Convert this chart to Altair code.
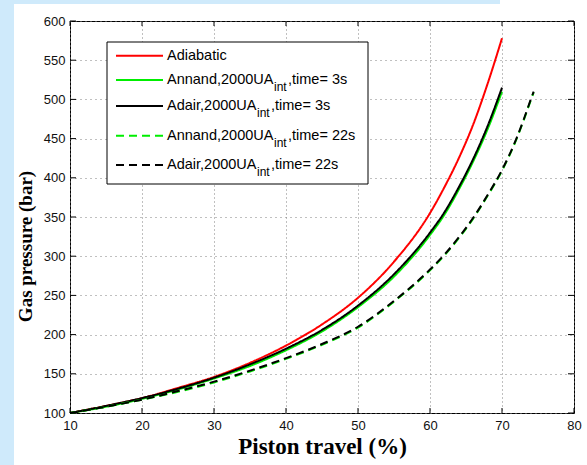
import altair as alt
import pandas as pd

# ---------------- data ----------------
x_main = [10, 15, 20, 25, 30, 35, 40, 45, 50, 55, 60, 62, 64, 66, 68, 70]
adiabatic = [100, 109, 119, 132, 146, 164, 186, 213, 247, 293, 355, 388, 425, 468, 520, 578]
annand_3s = [100, 108, 118, 130, 144, 160, 180, 204, 235, 274, 327, 353, 385, 421, 462, 510]
adair_3s = [100, 109, 119, 131, 145, 162, 182, 206, 237, 277, 330, 356, 388, 424, 466, 515]

x_22s = [10, 15, 20, 25, 30, 35, 40, 45, 50, 55, 60, 62, 64, 66, 68, 70, 72, 73, 74, 74.4]
annand_22s = [100, 108, 117, 127, 139, 153, 169, 187, 209, 242, 282, 301, 323, 348, 377, 409, 449, 473, 499, 509]
adair_22s = [100, 108, 117, 128, 140, 154, 170, 188, 210, 243, 283, 302, 324, 349, 378, 410, 450, 474, 500, 510]

series_names = ["Adiabatic", "Annand 3s", "Adair 3s", "Annand 22s", "Adair 22s"]
series_colors = ["#ff0000", "#00ee00", "#000000", "#00ee00", "#000000"]
series_dash = [[1, 0], [1, 0], [1, 0], [8, 5], [8, 5]]

legend_main = ["Adiabatic", "Annand,2000UA", "Adair,2000UA", "Annand,2000UA", "Adair,2000UA"]
legend_sub = ["", "int", "int", "int", "int"]
legend_suffix = ["", ",time= 3s", ",time= 3s", ",time= 22s", ",time= 22s"]

x_ticks = [10, 20, 30, 40, 50, 60, 70, 80]
y_ticks = [100, 150, 200, 250, 300, 350, 400, 450, 500, 550, 600]

# ---------------- table ----------------
rows = []
for name, xs, ys in [
    ("Adiabatic", x_main, adiabatic),
    ("Annand 3s", x_main, annand_3s),
    ("Adair 3s", x_main, adair_3s),
    ("Annand 22s", x_22s, annand_22s),
    ("Adair 22s", x_22s, adair_22s),
]:
    for xv, yv in zip(xs, ys):
        rows.append({"series": name, "x": xv, "y": yv})
df = pd.DataFrame(rows)

W, H = 504, 392
SANS = "Liberation Sans"
SERIF = "Liberation Serif"

xs_scale = alt.Scale(domain=[10, 80], nice=False, zero=False)
ys_scale = alt.Scale(domain=[100, 600], nice=False, zero=False)

x_axis = alt.Axis(
    values=x_ticks, grid=True, gridDash=[1, 3], gridColor="#808080", gridOpacity=1,
    ticks=False, tickSize=0, domain=False, labelFlush=False, labelOverlap=False,
    labelFont=SANS, labelFontSize=13, labelColor="#111", labelPadding=6,
    title="Piston travel (%)", titleFont=SERIF, titleFontWeight="bold", titleFontSize=23,
    titleColor="#000", titleX=252, titleY=40, titleBaseline="alphabetic", titleAlign="center",
)
y_axis = alt.Axis(
    values=y_ticks, grid=True, gridDash=[1, 4], gridColor="#808080", gridOpacity=1,
    ticks=False, tickSize=0, domain=False, labelFlush=False, labelOverlap=False,
    labelFont=SANS, labelFontSize=13, labelColor="#111", labelPadding=5,
    title="Gas pressure (bar)", titleFont=SERIF, titleFontWeight="bold", titleFontSize=19,
    titleColor="#000", titleX=-39, titleY=225, titleAngle=270, titleBaseline="alphabetic",
    titleAlign="center",
)
x_enc = alt.X("x:Q", scale=xs_scale, axis=x_axis)
y_enc = alt.Y("y:Q", scale=ys_scale, axis=y_axis)

layers = []

# decorative light-blue slide strips
deco = pd.DataFrame({"a": [0]})
layers.append(alt.Chart(deco).mark_rect(color="#cfeafb").encode(
    x=alt.value(-70), x2=alt.value(-56), y=alt.value(-21), y2=alt.value(444)))
layers.append(alt.Chart(deco).mark_rect(color="#cfeafb").encode(
    x=alt.value(-56), x2=alt.value(430), y=alt.value(-21), y2=alt.value(-17)))

# data lines
for name, col, dash in zip(series_names, series_colors, series_dash):
    layers.append(
        alt.Chart(df).transform_filter(alt.datum.series == name)
        .mark_line(color=col, strokeWidth=2, strokeDash=dash, interpolate="monotone", strokeCap="butt")
        .encode(x=x_enc, y=y_enc, order="x:Q")
    )

# inward ticks (MATLAB style)
xt = pd.DataFrame({"x": x_ticks})
yt = pd.DataFrame({"y": y_ticks})
layers.append(alt.Chart(xt).mark_rule(color="#000").encode(x=x_enc, y=alt.value(H), y2=alt.value(H - 5)))
layers.append(alt.Chart(xt).mark_rule(color="#000").encode(x=x_enc, y=alt.value(0), y2=alt.value(5)))
layers.append(alt.Chart(yt).mark_rule(color="#000").encode(y=y_enc, x=alt.value(0), x2=alt.value(6)))
layers.append(alt.Chart(yt).mark_rule(color="#000").encode(y=y_enc, x=alt.value(W), x2=alt.value(W - 6)))

# legend box
layers.append(alt.Chart(deco).mark_rect(fill="white", stroke="#000", strokeWidth=1).encode(
    x=alt.value(37), x2=alt.value(298), y=alt.value(21), y2=alt.value(163)))

row_y = [34.7, 59, 85, 114.7, 144]
sub_x = [None, 204, 187, 204, 187]
suf_x = [None, 218, 201, 218, 201]
for i in range(5):
    ry = row_y[i]
    layers.append(alt.Chart(deco).mark_rule(
        color=series_colors[i], strokeWidth=2, strokeDash=series_dash[i], strokeCap="butt"
    ).encode(x=alt.value(46), x2=alt.value(93), y=alt.value(ry)))
    layers.append(alt.Chart(deco).mark_text(
        font=SANS, fontSize=14.5, align="left", baseline="middle", color="#000"
    ).encode(x=alt.value(97), y=alt.value(ry), text=alt.value(legend_main[i])))
    if legend_sub[i]:
        layers.append(alt.Chart(deco).mark_text(
            font=SANS, fontSize=12, align="left", baseline="middle", color="#000"
        ).encode(x=alt.value(sub_x[i]), y=alt.value(ry + 7), text=alt.value(legend_sub[i])))
        layers.append(alt.Chart(deco).mark_text(
            font=SANS, fontSize=14.5, align="left", baseline="middle", color="#000"
        ).encode(x=alt.value(suf_x[i]), y=alt.value(ry), text=alt.value(legend_suffix[i])))

chart = alt.layer(*layers).properties(
    width=W, height=H,
    autosize=alt.AutoSizeParams(type="none"),
    padding={"left": 70, "top": 21, "right": 13, "bottom": 52},
    background="white",
).configure_view(stroke="#000", strokeWidth=1)

chart.save("out.html", embed_options={"renderer": "svg", "actions": False})
